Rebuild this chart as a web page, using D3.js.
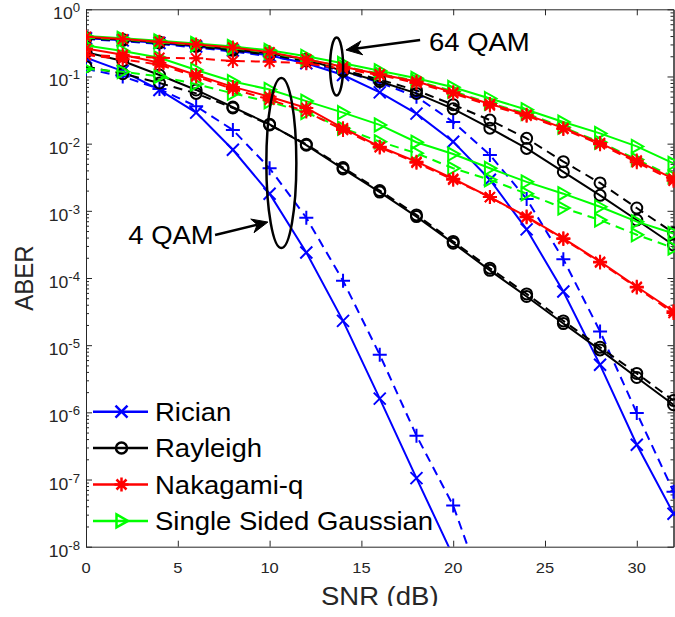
<!DOCTYPE html>
<html>

<head>
    <meta charset="UTF-8">
    <title>ABER vs SNR</title>
    <script src="https://d3js.org/d3.v7.min.js"></script>
    <style>
        body {
            margin: 0;
            background: #fff;
        }

        text {
            font-family: "Liberation Sans", Arial, Helvetica, sans-serif;
        }
    </style>
</head>

<body>
    <div id="chart"></div>
    <script>
        // SNR in dB, one point every 2 dB
        const snr = [0, 2, 4, 6, 8, 10, 12, 14, 16, 18, 20, 22, 24, 26, 28, 30, 32];

        // 4 QAM (solid = analytical, dashed = simulated)
        const rician4 = [0.19, 0.12, 0.063, 0.029, 0.0081, 0.0018, 2.4e-4, 2.3e-5, 1.6e-6, 1.05e-7, 7.2e-9];
        const rician4Dash = [0.13, 0.10, 0.065, 0.036, 0.016, 0.0043, 7.9e-4, 9.1e-5, 7.2e-6, 4.5e-7, 4.1e-8, 1.2e-9];
        const rayleigh4 = [0.23, 0.17, 0.105, 0.063, 0.035, 0.0194, 0.0095, 0.0042, 0.0019, 8.2e-4, 3.3e-4, 1.3e-4, 5.3e-5, 2.1e-5, 8.5e-6, 3.3e-6, 1.3e-6];
        const rayleigh4Dash = [0.14, 0.11, 0.08, 0.056, 0.034, 0.019, 0.0098, 0.0044, 0.002, 8.7e-4, 3.5e-4, 1.4e-4, 5.8e-5, 2.3e-5, 9.3e-6, 3.8e-6, 1.5e-6];
        const nakagami4 = [0.26, 0.21, 0.16, 0.105, 0.07, 0.05, 0.034, 0.017, 0.009, 0.0054, 0.003, 0.0016, 8.2e-4, 3.9e-4, 1.75e-4, 7.4e-5, 3.2e-5];
        const nakagami4Dash = [0.21, 0.18, 0.15, 0.1, 0.065, 0.045, 0.03, 0.016, 0.0088, 0.0052, 0.0029, 0.0016, 8e-4, 3.8e-4, 1.7e-4, 7.2e-5, 3.0e-5];
        const ssg4 = [0.29, 0.24, 0.19, 0.125, 0.084, 0.064, 0.043, 0.029, 0.019, 0.0105, 0.007, 0.0043, 0.0027, 0.0018, 0.00115, 6.9e-4, 4.6e-4];
        const ssg4Dash = [0.13, 0.118, 0.1, 0.077, 0.056, 0.042, 0.029, 0.017, 0.0107, 0.0072, 0.0043, 0.0029, 0.0018, 0.0011, 7.3e-4, 4.4e-4, 2.8e-4];

        // 64 QAM
        const rician64 = [0.37, 0.345, 0.315, 0.28, 0.245, 0.205, 0.157, 0.105, 0.058, 0.028, 0.0107, 0.0029, 5.3e-4, 6.3e-5, 5.1e-6, 3.3e-7, 3.1e-8];
        const rician64Dash = [0.36, 0.335, 0.305, 0.27, 0.235, 0.2, 0.16, 0.12, 0.081, 0.05, 0.021, 0.0068, 0.0015, 1.9e-4, 1.6e-5, 9.8e-7, 6.6e-8];
        const rayleigh64 = [0.38, 0.355, 0.325, 0.29, 0.255, 0.22, 0.18, 0.12, 0.084, 0.056, 0.033, 0.017, 0.0085, 0.0038, 0.0017, 7.3e-4, 3.1e-4];
        const rayleigh64Dash = [0.37, 0.345, 0.315, 0.28, 0.245, 0.21, 0.17, 0.125, 0.09, 0.062, 0.038, 0.0224, 0.012, 0.0054, 0.0026, 0.0011, 4.7e-4];
        const nakagami64 = [0.39, 0.36, 0.33, 0.3, 0.27, 0.23, 0.18, 0.14, 0.108, 0.084, 0.058, 0.039, 0.027, 0.017, 0.0102, 0.0056, 0.003];
        const nakagami64Dash = [0.21, 0.197, 0.19, 0.186, 0.17, 0.166, 0.157, 0.13, 0.105, 0.08, 0.056, 0.037, 0.026, 0.0165, 0.0098, 0.0053, 0.0028];
        const ssg64 = [0.4, 0.37, 0.34, 0.31, 0.28, 0.245, 0.2, 0.157, 0.122, 0.094, 0.069, 0.047, 0.032, 0.021, 0.0142, 0.0091, 0.0051];
        const ssg64Dash = [0.38, 0.355, 0.325, 0.295, 0.265, 0.225, 0.178, 0.142, 0.11, 0.086, 0.06, 0.04, 0.028, 0.0175, 0.0105, 0.0058, 0.0032];

        const legendNames = ['Rician', 'Rayleigh', 'Nakagami-q', 'Single Sided Gaussian'];
        const xTicks = [0, 5, 10, 15, 20, 25, 30];
        const yTicks = [1e-8, 1e-7, 1e-6, 1e-5, 1e-4, 1e-3, 1e-2, 1e-1, 1];

        const width = 675;
        const height = 617;
        const axisColor = '#262626';
        const stretch = 'scale(1.1,1)';

        const styles = {
            Rician: { color: '#0000ff', solid: 'x', dash: '+' },
            Rayleigh: { color: '#000000', solid: 'o', dash: 'o' },
            'Nakagami-q': { color: '#ff0000', solid: '*', dash: '*' },
            'Single Sided Gaussian': { color: '#00ff00', solid: '>', dash: '>' }
        };

        const series = [
            { name: 'Rician', values: rician4, dashed: false },
            { name: 'Rician', values: rician4Dash, dashed: true },
            { name: 'Rician', values: rician64, dashed: false },
            { name: 'Rician', values: rician64Dash, dashed: true },
            { name: 'Rayleigh', values: rayleigh4, dashed: false },
            { name: 'Rayleigh', values: rayleigh4Dash, dashed: true },
            { name: 'Rayleigh', values: rayleigh64, dashed: false },
            { name: 'Rayleigh', values: rayleigh64Dash, dashed: true },
            { name: 'Single Sided Gaussian', values: ssg4, dashed: false },
            { name: 'Single Sided Gaussian', values: ssg4Dash, dashed: true },
            { name: 'Single Sided Gaussian', values: ssg64, dashed: false },
            { name: 'Single Sided Gaussian', values: ssg64Dash, dashed: true },
            { name: 'Nakagami-q', values: nakagami4, dashed: false },
            { name: 'Nakagami-q', values: nakagami4Dash, dashed: true },
            { name: 'Nakagami-q', values: nakagami64, dashed: false },
            { name: 'Nakagami-q', values: nakagami64Dash, dashed: true }
        ];

        function markerPath(type) {
            if (type === 'x') return 'M-6,-6L6,6M-6,6L6,-6';
            if (type === '+') return 'M-7,0L7,0M0,-7L0,7';
            if (type === '*') return 'M-7,0L7,0M0,-7L0,7M-5,-5L5,5M-5,5L5,-5';
            if (type === '>') return 'M-5,-6.5L6.5,0L-5,6.5Z';
            return d3.arc()({ innerRadius: 0, outerRadius: 5.5, startAngle: 0, endAngle: 2 * Math.PI });
        }

        const svg = d3.select('#chart')
            .append('svg')
            .attr('width', width)
            .attr('height', height);

        const xScale = d3.scaleLinear()
            .domain([0, 32])
            .range([86, 673.5]);

        const yScale = d3.scaleLog()
            .domain([1e-8, 1])
            .range([546.7, 9.3]);

        const x0 = xScale(0), x1 = xScale(32), y0 = yScale(1e-8), y1 = yScale(1);

        svg.append('clipPath')
            .attr('id', 'plot-clip')
            .append('rect')
            .attr('x', x0)
            .attr('y', y1 - 10)
            .attr('width', width - x0)
            .attr('height', y0 - y1 + 10);

        // axes, MATLAB style: ticks inside, box all round
        const minorY = [];
        yTicks.slice(0, -1).forEach(d => {
            for (let k = 2; k <= 9; k++) minorY.push(d * k);
        });

        function styleAxis(g) {
            g.selectAll('path, line').attr('stroke', axisColor).attr('stroke-width', 1);
            g.selectAll('text').remove();
        }

        svg.append('g')
            .attr('transform', `translate(0,${y0})`)
            .call(d3.axisBottom(xScale).tickValues(xTicks).tickSizeInner(-6).tickSizeOuter(0))
            .call(styleAxis);
        svg.append('g')
            .attr('transform', `translate(0,${y1})`)
            .call(d3.axisTop(xScale).tickValues(xTicks).tickSizeInner(-6).tickSizeOuter(0))
            .call(styleAxis);
        svg.append('g')
            .attr('transform', `translate(${x0},0)`)
            .call(d3.axisLeft(yScale).tickValues(yTicks).tickSizeInner(-6).tickSizeOuter(0))
            .call(styleAxis);
        svg.append('g')
            .attr('transform', `translate(${x0},0)`)
            .call(d3.axisLeft(yScale).tickValues(minorY).tickSizeInner(-3).tickSizeOuter(0))
            .call(styleAxis);
        svg.append('g')
            .attr('transform', `translate(${x1},0)`)
            .call(d3.axisRight(yScale).tickValues(yTicks).tickSizeInner(-6).tickSizeOuter(0))
            .call(styleAxis);
        svg.append('g')
            .attr('transform', `translate(${x1},0)`)
            .call(d3.axisRight(yScale).tickValues(minorY).tickSizeInner(-3).tickSizeOuter(0))
            .call(styleAxis);

        // tick labels
        svg.append('g').selectAll('text')
            .data(xTicks)
            .join('text')
            .attr('transform', d => `translate(${xScale(d)},${y0 + 26}) ${stretch}`)
            .attr('text-anchor', 'middle')
            .attr('font-size', 15)
            .attr('fill', axisColor)
            .text(d => d);

        const yLabels = svg.append('g').selectAll('text')
            .data(yTicks)
            .join('text')
            .attr('transform', d => `translate(80,${yScale(d) + 10}) ${stretch}`)
            .attr('text-anchor', 'end')
            .attr('font-size', 16)
            .attr('fill', axisColor);
        yLabels.append('tspan').text('10');
        yLabels.append('tspan')
            .attr('dy', -7)
            .attr('font-size', 12)
            .text(d => Math.round(Math.log10(d)));

        svg.append('text')
            .attr('transform', `translate(${(x0 + x1) / 2},605) ${stretch}`)
            .attr('text-anchor', 'middle')
            .attr('font-size', 25)
            .attr('fill', axisColor)
            .text('SNR (dB)');

        svg.append('text')
            .attr('transform', `translate(33,278) rotate(-90) scale(1,1.1)`)
            .attr('text-anchor', 'middle')
            .attr('font-size', 24)
            .attr('fill', axisColor)
            .text('ABER');

        // curves
        const line = d3.line()
            .x(d => xScale(d[0]))
            .y(d => yScale(d[1]));

        const plot = svg.append('g').attr('clip-path', 'url(#plot-clip)');

        series.forEach(s => {
            const st = styles[s.name];
            const pts = s.values.map((v, i) => [snr[i], v]);
            const g = plot.append('g');
            g.append('path')
                .datum(pts)
                .attr('fill', 'none')
                .attr('stroke', st.color)
                .attr('stroke-width', 2)
                .attr('stroke-dasharray', s.dashed ? '9,6' : null)
                .attr('d', line);
            g.selectAll('path.mk')
                .data(pts)
                .join('path')
                .attr('class', 'mk')
                .attr('transform', d => `translate(${xScale(d[0])},${yScale(d[1])})`)
                .attr('d', markerPath(s.dashed ? st.dash : st.solid))
                .attr('fill', 'none')
                .attr('stroke', st.color)
                .attr('stroke-width', 2);
        });

        // legend
        const legend = svg.append('g');
        legendNames.forEach((name, i) => {
            const st = styles[name];
            const y = 411.7 + i * 36.4;
            legend.append('line')
                .attr('x1', 93).attr('x2', 148)
                .attr('y1', y).attr('y2', y)
                .attr('stroke', st.color)
                .attr('stroke-width', 2.5);
            legend.append('path')
                .attr('transform', `translate(121.5,${y})`)
                .attr('d', markerPath(st.solid))
                .attr('fill', 'none')
                .attr('stroke', st.color)
                .attr('stroke-width', 2.5);
            legend.append('text')
                .attr('transform', `translate(155,${y + 9}) ${stretch}`)
                .attr('font-size', 25)
                .attr('fill', '#000')
                .text(name);
        });

        // annotations
        const notes = svg.append('g')
            .attr('stroke', '#000')
            .attr('stroke-width', 2.5)
            .attr('fill', 'none');

        notes.append('ellipse')
            .attr('cx', xScale(13.65)).attr('cy', yScale(0.141))
            .attr('rx', 6.5).attr('ry', 29);
        notes.append('ellipse')
            .attr('cx', xScale(10.64)).attr('cy', yScale(5.15e-3))
            .attr('rx', 15).attr('ry', 85);

        function arrow(xa, ya, xb, yb) {
            const ax = xScale(xa), ay = yScale(ya), bx = xScale(xb), by = yScale(yb);
            const ang = Math.atan2(by - ay, bx - ax);
            const len = 16, half = 7, notch = 11;
            const ux = Math.cos(ang), uy = Math.sin(ang);
            const px = -uy, py = ux;
            notes.append('line')
                .attr('x1', ax).attr('y1', ay)
                .attr('x2', bx - ux * notch).attr('y2', by - uy * notch);
            notes.append('path')
                .attr('d', `M${bx},${by}L${bx - ux * len + px * half},${by - uy * len + py * half}` +
                    `L${bx - ux * notch},${by - uy * notch}L${bx - ux * len - px * half},${by - uy * len - py * half}Z`)
                .attr('fill', '#000')
                .attr('stroke-width', 1);
        }
        arrow(18.2, 0.349, 14.16, 0.248);
        arrow(7.03, 4.37e-4, 9.91, 6.8e-4);

        svg.append('text')
            .attr('transform', `translate(${xScale(18.68)},51) ${stretch}`)
            .attr('font-size', 25)
            .text('64 QAM');
        svg.append('text')
            .attr('transform', `translate(${xScale(2.3)},244) ${stretch}`)
            .attr('font-size', 25)
            .text('4 QAM');

        // the original picture is cut just under the axis title
        svg.append('rect')
            .attr('x', 0).attr('y', 606)
            .attr('width', width).attr('height', height - 606)
            .attr('fill', '#fff');
    </script>
</body>

</html>
